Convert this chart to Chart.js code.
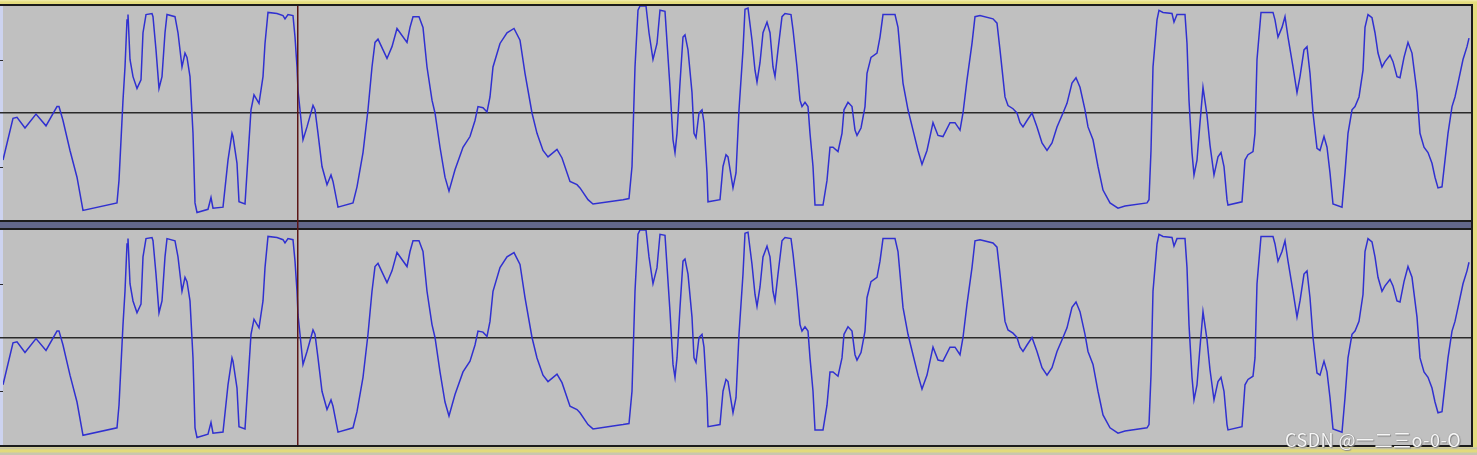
<!DOCTYPE html>
<html>
<head>
<meta charset="utf-8">
<script src="https://cdn.jsdelivr.net/npm/chart.js@4.4.1/dist/chart.umd.min.js"></script>
<style>
  html, body { margin: 0; padding: 0; }
  body {
    width: 1477px; height: 455px; overflow: hidden; position: relative;
    background: linear-gradient(#f2eeb0 0px, #e4dc7e 2px, #e4dc7e 447px, #bdbcb0 448px, #e2da7c 450px, #e2da7c 452px, #c9c7ae 453px);
  }
  #frame { position: absolute; left: 0; top: 4px; width: 1473px; height: 443px; background: #1b1b1b; }
  .panel { position: absolute; left: 0; }
  #top { top: 6px; }
  #bottom { top: 230px; }
  #mark {
    position: absolute; right: 16px; top: 426px;
    font-family: "Noto Sans CJK SC", "Noto Sans", sans-serif; font-size: 18px;
    color: #f6f6f6; letter-spacing: 0.5px;
    text-shadow: 0 0 1px #7a7a7a, 1px 1px 1px #8a8a8a;
  }
</style>
</head>
<body>
<div id="frame"></div>
<div class="panel" id="top"><canvas id="chanL" width="1471" height="224"></canvas></div>
<div class="panel" id="bottom"><canvas id="chanR" width="1471" height="215"></canvas></div>
<div id="mark">CSDN @一二三o-0-O</div>
<script>
// sample position (time axis) and amplitude (-1..1)
const samplePos = [
  0, 10, 14, 22, 33, 43, 54, 56, 60, 67, 74, 80, 114, 116, 120, 122, 124, 125, 127, 130,
  134, 138, 140, 143, 149, 150, 153, 156, 159, 162, 164, 172, 175, 179, 182, 184, 187, 190, 192, 194,
  205, 208, 210, 220, 225, 229, 230, 234, 236, 242, 245, 248, 251, 256, 260, 262, 265, 274, 280, 282,
  285, 290, 292, 294, 295, 297, 300, 304, 310, 312, 315, 319, 324, 328, 330, 335, 350, 354, 360, 365,
  369, 372, 375, 384, 389, 394, 404, 407, 410, 416, 420, 424, 429, 432, 437, 442, 446, 452, 460, 467,
  472, 475, 480, 484, 487, 490, 497, 504, 511, 517, 522, 529, 534, 540, 545, 554, 559, 567, 574, 577,
  585, 590, 620, 626, 629, 632, 635, 637, 643, 646, 650, 654, 657, 662, 667, 670, 672, 674, 677, 680,
  682, 685, 689, 691, 693, 696, 699, 701, 704, 705, 717, 720, 723, 725, 730, 733, 736, 740, 742, 745,
  749, 752, 754, 757, 760, 764, 767, 770, 772, 775, 779, 782, 788, 790, 794, 797, 799, 802, 805, 807,
  810, 812, 820, 824, 827, 830, 835, 839, 841, 845, 849, 852, 854, 858, 862, 864, 868, 874, 877, 880,
  892, 895, 900, 905, 910, 915, 919, 924, 930, 935, 940, 947, 952, 957, 960, 964, 969, 972, 977, 990,
  994, 997, 1002, 1005, 1010, 1014, 1017, 1020, 1024, 1029, 1034, 1039, 1044, 1049, 1054, 1060, 1064, 1069, 1073, 1077,
  1082, 1085, 1090, 1095, 1100, 1107, 1115, 1122, 1144, 1146, 1148, 1150, 1154, 1156, 1160, 1169, 1171, 1174, 1182, 1184,
  1186, 1189, 1191, 1194, 1197, 1200, 1204, 1207, 1211, 1215, 1218, 1221, 1224, 1225, 1239, 1242, 1245, 1250, 1252, 1254,
  1258, 1270, 1272, 1275, 1279, 1282, 1285, 1290, 1294, 1297, 1301, 1304, 1307, 1310, 1314, 1317, 1321, 1324, 1327, 1330,
  1339, 1342, 1345, 1349, 1352, 1356, 1360, 1362, 1365, 1369, 1372, 1375, 1379, 1382, 1387, 1390, 1394, 1397, 1401, 1405,
  1409, 1414, 1417, 1421, 1425, 1429, 1432, 1435, 1439, 1442, 1445, 1449, 1452, 1455, 1460, 1464, 1466
];
const amplitude = [
  -0.44, -0.05, -0.04, -0.14, -0.01, -0.12, 0.06, 0.06, -0.07, -0.35, -0.60, -0.91, -0.84, -0.63, 0.12, 0.43, 0.87, 0.92, 0.50, 0.34,
  0.23, 0.31, 0.75, 0.92, 0.93, 0.90, 0.59, 0.23, 0.34, 0.75, 0.92, 0.90, 0.75, 0.43, 0.56, 0.52, 0.34, -0.19, -0.84, -0.93,
  -0.90, -0.79, -0.89, -0.88, -0.44, -0.19, -0.22, -0.47, -0.83, -0.85, -0.41, 0.03, 0.17, 0.09, 0.34, 0.65, 0.94, 0.93, 0.91, 0.88,
  0.92, 0.91, 0.71, 0.43, 0.21, 0.03, -0.25, -0.13, 0.07, 0.03, -0.19, -0.50, -0.67, -0.58, -0.64, -0.88, -0.84, -0.69, -0.37, 0.03,
  0.43, 0.66, 0.69, 0.51, 0.62, 0.79, 0.66, 0.80, 0.90, 0.90, 0.80, 0.43, 0.12, 0.00, -0.32, -0.60, -0.73, -0.53, -0.32, -0.22,
  -0.07, 0.06, 0.05, 0.01, 0.15, 0.43, 0.65, 0.75, 0.79, 0.68, 0.37, 0.00, -0.19, -0.35, -0.41, -0.34, -0.42, -0.64, -0.67, -0.70,
  -0.81, -0.85, -0.81, -0.80, -0.50, 0.43, 0.96, 1.00, 1.00, 0.75, 0.50, 0.65, 0.96, 0.95, 0.24, -0.25, -0.37, -0.19, 0.28, 0.71,
  0.73, 0.59, 0.19, -0.19, -0.23, 0.00, 0.03, -0.09, -0.56, -0.83, -0.81, -0.50, -0.39, -0.41, -0.70, -0.56, 0.03, 0.59, 0.97, 0.98,
  0.68, 0.40, 0.29, 0.47, 0.75, 0.85, 0.75, 0.43, 0.34, 0.59, 0.90, 0.93, 0.92, 0.78, 0.43, 0.12, 0.06, 0.10, 0.06, -0.19,
  -0.50, -0.86, -0.86, -0.63, -0.32, -0.32, -0.36, -0.19, 0.03, 0.10, 0.06, -0.16, -0.21, -0.14, 0.06, 0.37, 0.52, 0.56, 0.71, 0.92,
  0.92, 0.80, 0.28, 0.03, -0.16, -0.35, -0.48, -0.35, -0.09, -0.21, -0.22, -0.09, -0.09, -0.16, 0.00, 0.31, 0.65, 0.90, 0.91, 0.88,
  0.84, 0.59, 0.15, 0.07, 0.04, 0.00, -0.09, -0.13, -0.07, 0.00, -0.13, -0.28, -0.35, -0.28, -0.13, 0.00, 0.09, 0.28, 0.33, 0.24,
  0.03, -0.13, -0.25, -0.50, -0.72, -0.84, -0.89, -0.87, -0.84, -0.81, -0.35, 0.43, 0.87, 0.96, 0.94, 0.93, 0.85, 0.92, 0.92, 0.65,
  0.12, -0.37, -0.58, -0.44, -0.09, 0.24, -0.02, -0.30, -0.58, -0.41, -0.37, -0.50, -0.81, -0.86, -0.83, -0.44, -0.39, -0.36, -0.19, 0.50,
  0.94, 0.94, 0.87, 0.71, 0.80, 0.90, 0.71, 0.43, 0.19, 0.34, 0.59, 0.62, 0.37, 0.00, -0.33, -0.35, -0.22, -0.32, -0.56, -0.85,
  -0.88, -0.56, -0.19, 0.03, 0.06, 0.15, 0.40, 0.80, 0.92, 0.89, 0.75, 0.56, 0.43, 0.48, 0.54, 0.48, 0.34, 0.33, 0.52, 0.66,
  0.56, 0.19, -0.19, -0.32, -0.37, -0.47, -0.60, -0.70, -0.69, -0.44, -0.19, 0.06, 0.15, 0.28, 0.50, 0.62, 0.70
];
const gridTicks = [-0.5, 0.5];
const cursorAt = 295;
const sampleMax = 1468;

const waveColor = '#3030d0';
const panelBg = '#c0c0c0';

function wavePoints() {
  return samplePos.map((t, i) => ({ x: t, y: amplitude[i] }));
}

// background, centre line, little ruler ticks, cursor and the channel separator
const panelDeco = {
  id: 'panelDeco',
  beforeDraw(chart, args, opts) {
    const ctx = chart.ctx;
    const area = chart.chartArea;
    ctx.save();
    ctx.fillStyle = panelBg;
    ctx.fillRect(0, 0, chart.width, area.bottom);
    ctx.fillStyle = '#cdd3ef';
    ctx.fillRect(0, area.top, area.left, area.bottom - area.top);
    if (opts.separator) {
      ctx.fillStyle = '#1c1c1c';
      ctx.fillRect(0, area.bottom, chart.width, chart.height - area.bottom);
      ctx.fillStyle = '#62678a';
      ctx.fillRect(0, area.bottom + 2, chart.width, chart.height - area.bottom - 4);
    }
    ctx.restore();
  },
  beforeDatasetsDraw(chart) {
    const ctx = chart.ctx;
    const area = chart.chartArea;
    const y = chart.scales.y;
    ctx.save();
    ctx.fillStyle = '#2a2a2a';
    ctx.fillRect(0, Math.round(y.getPixelForValue(0)) - 1, area.right, 1.5);
    gridTicks.forEach(v => {
      ctx.fillRect(0, Math.round(y.getPixelForValue(v)), 3, 1);
    });
    ctx.restore();
  },
  afterDatasetsDraw(chart) {
    const ctx = chart.ctx;
    const x = Math.round(chart.scales.x.getPixelForValue(cursorAt));
    ctx.save();
    ctx.fillStyle = '#5c1616';
    ctx.fillRect(x - 1, 0, 1.5, chart.height);
    ctx.restore();
  }
};

function makeChannel(id, separator) {
  return new Chart(document.getElementById(id), {
    type: 'line',
    data: {
      datasets: [{
        data: wavePoints(),
        borderColor: waveColor,
        borderWidth: 1.5,
        pointRadius: 0,
        tension: 0,
        fill: false
      }]
    },
    options: {
      responsive: false,
      animation: false,
      devicePixelRatio: 1,
      events: [],
      layout: { padding: { left: 3, right: 0, top: 0, bottom: separator ? 10 : 0 } },
      scales: {
        x: { type: 'linear', min: 0, max: sampleMax, display: false },
        y: { min: -1, max: 1, display: false }
      },
      plugins: {
        legend: { display: false },
        tooltip: { enabled: false },
        panelDeco: { separator: separator }
      }
    },
    plugins: [panelDeco]
  });
}

makeChannel('chanL', true);
makeChannel('chanR', false);
</script>
</body>
</html>
